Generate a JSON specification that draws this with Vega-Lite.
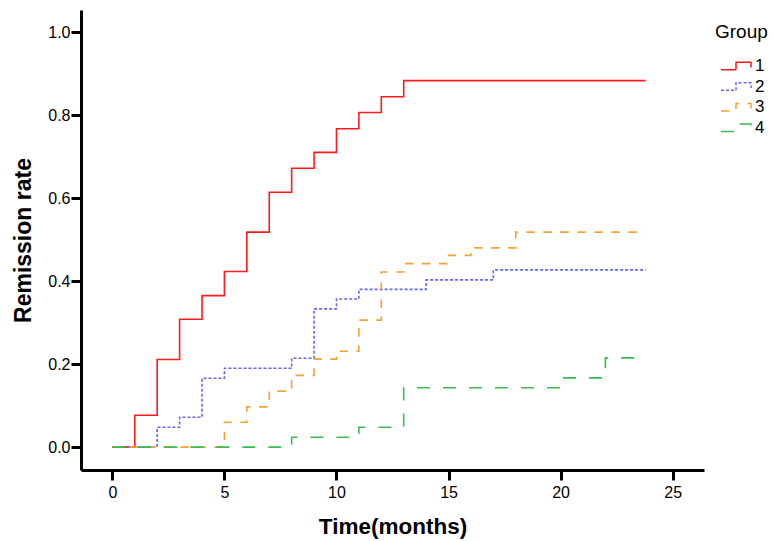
{
  "$schema": "https://vega.github.io/schema/vega-lite/v6.json",
  "width": 623,
  "height": 460,
  "autosize": {"type": "none"},
  "padding": {"left": 81, "top": 10, "right": 69, "bottom": 71},
  "background": "white",
  "data": {
    "values": [
      {"group": "1", "time": 0, "rate": 0},
      {"group": "1", "time": 1, "rate": 0.077},
      {"group": "1", "time": 2, "rate": 0.211},
      {"group": "1", "time": 3, "rate": 0.308},
      {"group": "1", "time": 4, "rate": 0.365},
      {"group": "1", "time": 5, "rate": 0.423},
      {"group": "1", "time": 6, "rate": 0.518},
      {"group": "1", "time": 7, "rate": 0.614},
      {"group": "1", "time": 8, "rate": 0.672},
      {"group": "1", "time": 9, "rate": 0.71},
      {"group": "1", "time": 10, "rate": 0.767},
      {"group": "1", "time": 11, "rate": 0.806},
      {"group": "1", "time": 12, "rate": 0.844},
      {"group": "1", "time": 13, "rate": 0.883},
      {"group": "1", "time": 23.8, "rate": 0.883},
      {"group": "2", "time": 0, "rate": 0},
      {"group": "2", "time": 2, "rate": 0.048},
      {"group": "2", "time": 3, "rate": 0.072},
      {"group": "2", "time": 4, "rate": 0.166},
      {"group": "2", "time": 5, "rate": 0.19},
      {"group": "2", "time": 8, "rate": 0.214},
      {"group": "2", "time": 9, "rate": 0.333},
      {"group": "2", "time": 10, "rate": 0.357},
      {"group": "2", "time": 11, "rate": 0.38},
      {"group": "2", "time": 14, "rate": 0.403},
      {"group": "2", "time": 17, "rate": 0.427},
      {"group": "2", "time": 23.8, "rate": 0.427},
      {"group": "3", "time": 0, "rate": 0},
      {"group": "3", "time": 5, "rate": 0.06},
      {"group": "3", "time": 6, "rate": 0.097},
      {"group": "3", "time": 7, "rate": 0.135},
      {"group": "3", "time": 8, "rate": 0.173},
      {"group": "3", "time": 9, "rate": 0.212},
      {"group": "3", "time": 10, "rate": 0.231},
      {"group": "3", "time": 11, "rate": 0.306},
      {"group": "3", "time": 12, "rate": 0.422},
      {"group": "3", "time": 13, "rate": 0.442},
      {"group": "3", "time": 15, "rate": 0.462},
      {"group": "3", "time": 16, "rate": 0.48},
      {"group": "3", "time": 18, "rate": 0.518},
      {"group": "3", "time": 23.8, "rate": 0.518},
      {"group": "4", "time": 0, "rate": 0},
      {"group": "4", "time": 8, "rate": 0.024},
      {"group": "4", "time": 11, "rate": 0.048},
      {"group": "4", "time": 13, "rate": 0.143},
      {"group": "4", "time": 20, "rate": 0.167},
      {"group": "4", "time": 22, "rate": 0.215},
      {"group": "4", "time": 23.8, "rate": 0.215}
    ]
  },
  "mark": {"type": "line", "interpolate": "step-after", "strokeWidth": 1.6},
  "encoding": {
    "x": {
      "field": "time", "type": "quantitative",
      "scale": {"domain": [-1.4, 26.4], "nice": false, "zero": false},
      "axis": {
        "title": "Time(months)", "values": [0, 5, 10, 15, 20, 25], "format": "d",
        "titleX": 311.5, "titleY": 63, "titleBaseline": "alphabetic", "titleAlign": "center",
        "titleFontSize": 22.5, "labelPadding": 4
      }
    },
    "y": {
      "field": "rate", "type": "quantitative",
      "scale": {"domain": [-0.055, 1.053], "nice": false, "zero": false},
      "axis": {
        "title": "Remission rate", "values": [0, 0.2, 0.4, 0.6, 0.8, 1.0], "format": ".1f",
        "titleX": -51, "titleY": 230, "titleAngle": -90, "titleBaseline": "alphabetic", "titleAlign": "center",
        "titleFontSize": 23, "labelPadding": 1
      }
    },
    "color": {
      "field": "group", "type": "nominal",
      "scale": {"domain": ["1", "2", "3", "4"], "range": ["#ff1a1a", "#6464ff", "#f7a135", "#3fba4f"]},
      "legend": {
        "title": "Group", "orient": "none", "legendX": 634, "legendY": 13,
        "symbolType": "M-1,0.25H0V-0.25H1V0.1", "symbolSize": 900, "symbolStrokeWidth": 1.5,
        "symbolOffset": 5, "labelOffset": 3, "clipHeight": 20, "rowPadding": 0.6,
        "titlePadding": 14
      }
    },
    "strokeDash": {
      "field": "group", "type": "nominal",
      "scale": {"domain": ["1", "2", "3", "4"], "range": [[1, 0], [3, 2], [8.5, 8.5], [13, 13]]},
      "legend": {
        "title": "Group", "orient": "none", "legendX": 634, "legendY": 13,
        "symbolType": "M-1,0.25H0V-0.25H1V0.1", "symbolSize": 900, "symbolStrokeWidth": 1.5,
        "symbolOffset": 5, "labelOffset": 3, "clipHeight": 20, "rowPadding": 0.6,
        "titlePadding": 14
      }
    }
  },
  "config": {
    "view": {"stroke": null},
    "font": "Liberation Sans",
    "axis": {
      "grid": false, "domainColor": "black", "domainWidth": 3, "tickColor": "black", "tickWidth": 3,
      "tickSize": 10, "labelFontSize": 16, "labelColor": "black", "labelFont": "Liberation Sans",
      "titleFont": "Liberation Sans", "titleFontWeight": "bold", "titleColor": "black", "offset": 0
    },
    "legend": {
      "titleFont": "Liberation Sans", "titleFontSize": 19, "titleFontWeight": "normal", "titleColor": "black",
      "labelFont": "Liberation Sans", "labelFontSize": 17, "labelColor": "black"
    }
  }
}
